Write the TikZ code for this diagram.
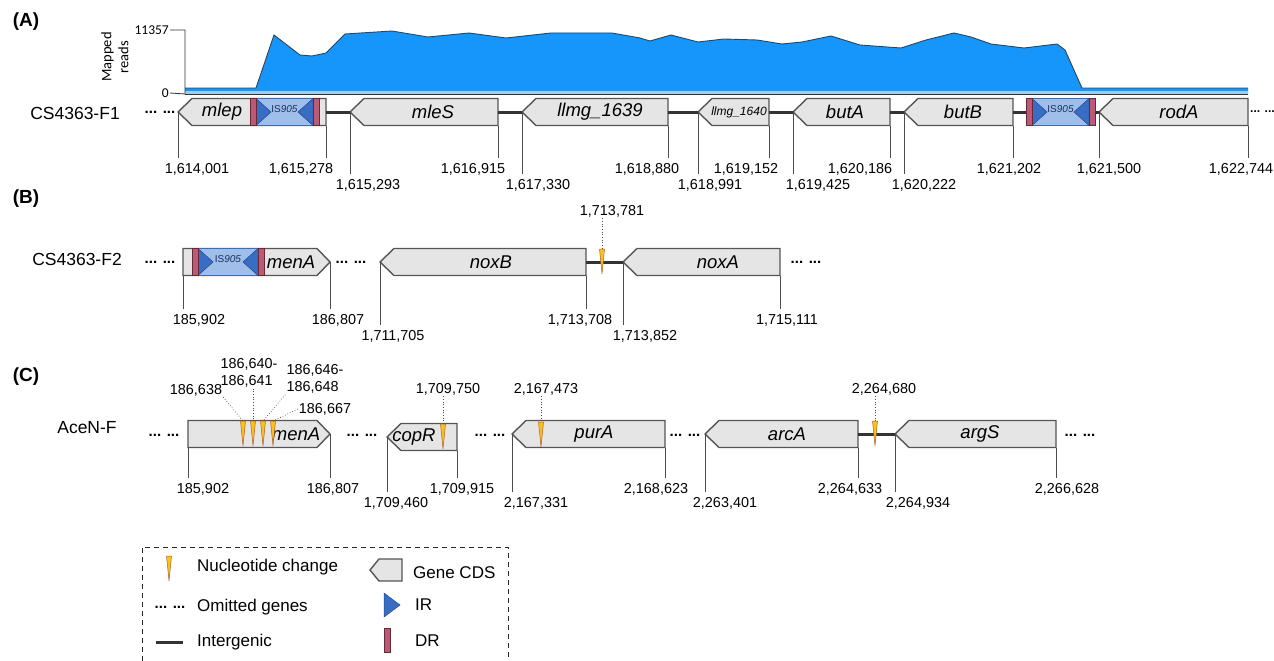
\documentclass[tikz,border=0pt]{standalone}
\usepackage{fontspec}
\setmainfont{Liberation Sans}
\newfontfamily\calfont{Carlito}
\usetikzlibrary{calc}

\definecolor{genefill}{RGB}{229,229,229}
\definecolor{geneline}{RGB}{85,85,85}
\definecolor{isfill}{RGB}{160,190,234}
\definecolor{irblue}{RGB}{55,110,195}
\definecolor{irdark}{RGB}{35,70,140}
\definecolor{drfill}{RGB}{186,90,116}
\definecolor{drdark}{RGB}{105,40,58}
\definecolor{covfill}{RGB}{22,150,250}
\definecolor{snpfill}{RGB}{246,196,28}
\definecolor{snpedge}{RGB}{185,90,35}

\newcommand{\numfnt}{\fontsize{14.4}{17}\selectfont}
\newcommand{\genefnt}{\fontsize{18.5}{20}\selectfont\itshape}
\newcommand{\rowfnt}{\fontsize{17.5}{20}\selectfont}
\newcommand{\legfnt}{\fontsize{17}{20}\selectfont}
\newcommand{\dotfnt}{\fontsize{15}{15}\selectfont\bfseries}

% gene pointing left: name, tip x, end x, mid y
\newcommand{\geneleft}[4]{%
  \draw[gene] (#2,#4) -- (#2+14,#4-13.5) -- (#3,#4-13.5) -- (#3,#4+13.5) -- (#2+14,#4+13.5) -- cycle;
  \coordinate (#1L) at (#2,#4); \coordinate (#1R) at (#3,#4); \coordinate (#1F) at (#3,#4+13.5);}
% gene pointing right: name, start x, tip x, mid y
\newcommand{\generight}[4]{%
  \draw[gene] (#2,#4-13.5) -- (#3-13,#4-13.5) -- (#3,#4) -- (#3-13,#4+13.5) -- (#2,#4+13.5) -- cycle;
  \coordinate (#1L) at (#2,#4); \coordinate (#1R) at (#3,#4); \coordinate (#1F) at (#2,#4+13.5);}
% IS element with DRs: name, left x, right x, mid y
\newcommand{\iselem}[4]{%
  \draw[fill=isfill, draw=irblue, line width=0.6pt] (#2+6,#4-13.5) rectangle (#3-6,#4+13.5);
  \filldraw[ir] (#2+6,#4-13.5) -- (#2+21,#4) -- (#2+6,#4+13.5) -- cycle;
  \filldraw[ir] (#3-6,#4-13.5) -- (#3-21,#4) -- (#3-6,#4+13.5) -- cycle;
  \filldraw[dr] (#2,#4-13.5) rectangle (#2+6,#4+13.5);
  \filldraw[dr] (#3-6,#4-13.5) rectangle (#3,#4+13.5);
  \node[font=\fontsize{10}{12}\selectfont, text=irdark!70!black, inner sep=0pt] (#1) at ({(#2+#3)/2},#4-3) {IS\textit{905}};
  \coordinate (#1L) at (#2,#4); \coordinate (#1R) at (#3,#4);}
% nucleotide change: name, x, top y
\newcommand{\snp}[3]{%
  \filldraw[snp] (#2-2.5,#3) -- (#2+2.5,#3) -- (#2,#3+25) -- cycle;
  \coordinate (#1) at (#2,#3);}

\begin{document}
\begin{tikzpicture}[x=1pt, y=-1pt,
  gene/.style={draw=geneline, fill=genefill, line width=1.4pt},
  gname/.style={font=\genefnt, inner sep=0pt},
  num/.style={font=\numfnt, inner sep=1pt},
  ticklin/.style={draw=black!70, line width=0.8pt},
  ptr/.style={draw=black!70, line width=0.7pt, dotted},
  igl/.style={draw=black!80, line width=3pt},
  ir/.style={fill=irblue, draw=irdark, line width=0.5pt},
  dr/.style={fill=drfill, draw=drdark, line width=0.6pt},
  snp/.style={fill=snpfill, draw=snpedge, line width=0.5pt},
  gap/.style={font=\dotfnt, inner sep=0pt},
  rowlab/.style={font=\rowfnt, inner sep=0pt},
  panel/.style={font=\fontsize{19}{20}\selectfont\bfseries, inner sep=0pt},
  legtxt/.style={font=\legfnt, anchor=west, inner sep=0pt}]
\useasboundingbox (0,0) rectangle (1274,661);

% ---------- (A) coverage
\node[panel] (pA) at (26,22) {(A)};
\fill[covfill] (185,94) -- (185,88) -- (256,88) -- (274,35) -- (300,55) -- (312,56) -- (326,53) -- (345,34)
  -- (392,31) -- (428,37) -- (469,33) -- (506,38) -- (551,33) -- (612,33) -- (640,38) -- (650,41) -- (671,35)
  -- (698,42) -- (724,39) -- (757,40) -- (782,44) -- (802,42) -- (831,36) -- (860,45) -- (901,48) -- (926,40)
  -- (954,33) -- (971,37) -- (991,44) -- (1024,48) -- (1057,44) -- (1065,50) -- (1082,88) -- (1248,88) -- (1248,94) -- cycle;
\draw[black!75, line width=0.9pt] (185,88) -- (256,88) -- (274,35) -- (300,55) -- (312,56) -- (326,53) -- (345,34)
  -- (392,31) -- (428,37) -- (469,33) -- (506,38) -- (551,33) -- (612,33) -- (640,38) -- (650,41) -- (671,35)
  -- (698,42) -- (724,39) -- (757,40) -- (782,44) -- (802,42) -- (831,36) -- (860,45) -- (901,48) -- (926,40)
  -- (954,33) -- (971,37) -- (991,44) -- (1024,48) -- (1057,44) -- (1065,50) -- (1082,88) -- (1248,88);
\fill[covfill!45!white] (185,91) rectangle (1248,94);
\node[font=\calfont\fontsize{13.5}{13}\selectfont, anchor=east, inner sep=1pt] (ymax) at (170,30) {11357};
\node[font=\calfont\fontsize{13.5}{13}\selectfont, anchor=east, inner sep=1pt] (ymin) at (170,93) {0};
\node[font=\calfont\fontsize{14.5}{17}\selectfont, rotate=90, align=center, inner sep=0pt] (ylab) at (115,57) {Mapped\\reads};
\coordinate (axtop) at (185,30); \coordinate (axbot) at (185,94); \coordinate (axend) at (1248,94);
\draw[black!80, line width=0.8pt] (ymax.east) -- (axtop) -- (axbot) -- (ymin.east);
\draw[black!80, line width=0.8pt] (axbot) -- (axend);

% ---------- (A) genes
\node[rowlab] (rowA) at (75,113) {CS4363-F1};
\node[gap] (d1) at (160,112) {... ...};
\node[gap, font=\fontsize{12}{12}\selectfont\bfseries, anchor=west] (d2) at (1250,112) {... ...};
\geneleft{mlep}{178}{326}{112}
\geneleft{mleS}{350}{498}{112}
\geneleft{lA}{522}{668}{112}
\geneleft{lB}{698}{769}{112}
\geneleft{butA}{793}{890}{112}
\geneleft{butB}{904}{1013}{112}
\geneleft{rodA}{1099}{1248}{112}
\iselem{isA}{250}{319}{112}
\iselem{isB}{1026}{1095}{112}
\draw[igl] (mlepR) -- (mleSL); \draw[igl] (mleSR) -- (lAL); \draw[igl] (lAR) -- (lBL);
\draw[igl] (lBR) -- (butAL); \draw[igl] (butAR) -- (butBL); \draw[igl] (butBR) -- (isBL); \draw[igl] (isBR) -- (rodAL);
\node[gname] (nmlep) at (222,112) {mlep};
\node[gname] (nmleS) at (433,112) {mleS};
\node[gname] (nlA) at (600,112) {llmg\_1639};
\node[gname, font=\fontsize{12}{12}\selectfont\itshape] (nlB) at (739,112) {llmg\_1640};
\node[gname] (nbutA) at (845,112) {butA};
\node[gname] (nbutB) at (963,112) {butB};
\node[gname] (nrodA) at (1179,112) {rodA};
\node[num] (a1) at (197,169) {1,614,001};
\node[num] (a2) at (301,169) {1,615,278};
\node[num] (a3) at (368,185) {1,615,293};
\node[num] (a4) at (473,169) {1,616,915};
\node[num] (a5) at (538,185) {1,617,330};
\node[num] (a6) at (647,169) {1,618,880};
\node[num] (a7) at (710,185) {1,618,991};
\node[num] (a8) at (746,169) {1,619,152};
\node[num] (a9) at (818,185) {1,619,425};
\node[num] (a10) at (860,169) {1,620,186};
\node[num] (a11) at (924,185) {1,620,222};
\node[num] (a12) at (1009,169) {1,621,202};
\node[num] (a13) at (1109,169) {1,621,500};
\node[num] (a14) at (1241,169) {1,622,744};
\draw[ticklin] (mlepL) -- ([yshift=4pt]mlepL |- a1.north); \draw[ticklin] (mlepF) -- ([yshift=4pt]mlepF |- a2.north);
\draw[ticklin] (mleSL) -- ([yshift=4pt]mleSL |- a3.north); \draw[ticklin] (mleSF) -- ([yshift=4pt]mleSF |- a4.north);
\draw[ticklin] (lAL) -- ([yshift=4pt]lAL |- a5.north); \draw[ticklin] (lAF) -- ([yshift=4pt]lAF |- a6.north);
\draw[ticklin] (lBL) -- ([yshift=4pt]lBL |- a7.north); \draw[ticklin] (lBF) -- ([yshift=4pt]lBF |- a8.north);
\draw[ticklin] (butAL) -- ([yshift=4pt]butAL |- a9.north); \draw[ticklin] (butAF) -- ([yshift=4pt]butAF |- a10.north);
\draw[ticklin] (butBL) -- ([yshift=4pt]butBL |- a11.north); \draw[ticklin] (butBF) -- ([yshift=4pt]butBF |- a12.north);
\draw[ticklin] (rodAL) -- ([yshift=4pt]rodAL |- a13.north); \draw[ticklin] (rodAF) -- ([yshift=4pt]rodAF |- a14.north);

% ---------- (B)
\node[panel] (pB) at (26,199) {(B)};
\node[rowlab] (rowB) at (77,259) {CS4363-F2};
\node[gap] (d3) at (160,262) {... ...};
\node[gap] (d4) at (351,262) {... ...};
\node[gap] (d5) at (806,262) {... ...};
\generight{menB}{183}{330}{262}
\iselem{isC}{192}{264}{262}
\geneleft{noxB}{380}{586}{262}
\geneleft{noxA}{623}{780}{262}
\draw[igl] (noxBR) -- (noxAL);
\node[gname] (nmenB) at (291,262) {menA};
\node[gname] (nnoxB) at (491,262) {noxB};
\node[gname] (nnoxA) at (718,262) {noxA};
\snp{mB}{602}{249}
\node[num] (b7) at (612,211) {1,713,781};
\draw[ptr] (mB |- b7.south) -- (mB);
\node[num] (b1) at (199,320) {185,902};
\node[num] (b2) at (338,320) {186,807};
\node[num] (b3) at (393,336) {1,711,705};
\node[num] (b4) at (580,320) {1,713,708};
\node[num] (b5) at (645,336) {1,713,852};
\node[num] (b6) at (787,320) {1,715,111};
\draw[ticklin] (menBF) -- ([yshift=4pt]menBF |- b1.north); \draw[ticklin] (menBR) -- ([yshift=4pt]menBR |- b2.north);
\draw[ticklin] (noxBL) -- ([yshift=4pt]noxBL |- b3.north); \draw[ticklin] (noxBF) -- ([yshift=4pt]noxBF |- b4.north);
\draw[ticklin] (noxAL) -- ([yshift=4pt]noxAL |- b5.north); \draw[ticklin] (noxAF) -- ([yshift=4pt]noxAF |- b6.north);

% ---------- (C)
\node[panel] (pC) at (26,377) {(C)};
\node[rowlab] (rowC) at (87,428) {AceN-F};
\node[gap] (d6) at (164,435) {... ...};
\node[gap] (d7) at (362,435) {... ...};
\node[gap] (d8) at (490,435) {... ...};
\node[gap] (d9) at (685,435) {... ...};
\node[gap] (d10) at (1080,435) {... ...};
\generight{menC}{188}{330}{434}
\geneleft{copR}{387}{457}{437}
\geneleft{purA}{512}{665}{434}
\geneleft{arcA}{705}{858}{434}
\geneleft{argS}{895}{1056}{434}
\draw[igl] (arcAR) -- (argSL);
\node[gname] (nmenC) at (296,434) {menA};
\node[gname] (ncopR) at (414,437) {copR};
\node[gname] (npurA) at (594,434) {purA};
\node[gname] (narcA) at (787,434) {arcA};
\node[gname] (nargS) at (980,434) {argS};
\snp{m1}{243}{421} \snp{m2}{253}{421} \snp{m3}{263}{421} \snp{m4}{273}{421}
\snp{m5}{443}{424} \snp{m6}{541}{422} \snp{m7}{875}{421}
\node[num] (s1) at (196,390) {186,638};
\node[num, align=left] (s2) at (249,373) {186,640-\\186,641};
\node[num, align=left] (s3) at (315,379) {186,646-\\186,648};
\node[num] (s4) at (325,409) {186,667};
\node[num] (s5) at (448,389) {1,709,750};
\node[num] (s6) at (546,389) {2,167,473};
\node[num] (s7) at (884,389) {2,264,680};
\draw[ptr] (s1.south east) -- (m1); \draw[ptr] (m2 |- s2.south) -- (m2);
\draw[ptr] (s3.south west) -- (m3); \draw[ptr] (s4.west) -- (m4);
\draw[ptr] (m5 |- s5.south) -- (m5); \draw[ptr] (m6 |- s6.south) -- (m6); \draw[ptr] (m7 |- s7.south) -- (m7);
\node[num] (c1) at (203,489) {185,902};
\node[num] (c2) at (333,489) {186,807};
\node[num] (c3) at (396,503) {1,709,460};
\node[num] (c4) at (462,489) {1,709,915};
\node[num] (c5) at (536,503) {2,167,331};
\node[num] (c6) at (656,489) {2,168,623};
\node[num] (c7) at (725,503) {2,263,401};
\node[num] (c8) at (850,489) {2,264,633};
\node[num] (c9) at (918,503) {2,264,934};
\node[num] (c10) at (1067,489) {2,266,628};
\draw[ticklin] (menCF) -- ([yshift=4pt]menCF |- c1.north); \draw[ticklin] (menCR) -- ([yshift=4pt]menCR |- c2.north);
\draw[ticklin] (copRL) -- ([yshift=4pt]copRL |- c3.north); \draw[ticklin] (copRF) -- ([yshift=4pt]copRF |- c4.north);
\draw[ticklin] (purAL) -- ([yshift=4pt]purAL |- c5.north); \draw[ticklin] (purAF) -- ([yshift=4pt]purAF |- c6.north);
\draw[ticklin] (arcAL) -- ([yshift=4pt]arcAL |- c7.north); \draw[ticklin] (arcAF) -- ([yshift=4pt]arcAF |- c8.north);
\draw[ticklin] (argSL) -- ([yshift=4pt]argSL |- c9.north); \draw[ticklin] (argSF) -- ([yshift=4pt]argSF |- c10.north);

% ---------- legend
\draw[black!85, line width=1pt, dash pattern=on 5pt off 4pt] (142,661) -- (142,547) -- (508,547) -- (508,661);
\snp{lgsnp}{169}{556}
\node[legtxt] (lg1) at (197,567) {Nucleotide change};
\node[gap] (lgdots) at (170,607) {... ...};
\node[legtxt] (lg2) at (197,607) {Omitted genes};
\draw[igl] (156,642) -- (183,642);
\node[legtxt] (lg3) at (197,642) {Intergenic};
\draw[gene] (370,570) -- (379,559) -- (402,559) -- (402,581) -- (379,581) -- cycle;
\node[legtxt] (lg4) at (413,573) {Gene CDS};
\filldraw[ir] (384,593) -- (400,605) -- (384,617) -- cycle;
\node[legtxt] (lg5) at (415,605) {IR};
\filldraw[dr] (384,628) rectangle (390,652);
\node[legtxt] (lg6) at (415,641) {DR};
\end{tikzpicture}
\end{document}
